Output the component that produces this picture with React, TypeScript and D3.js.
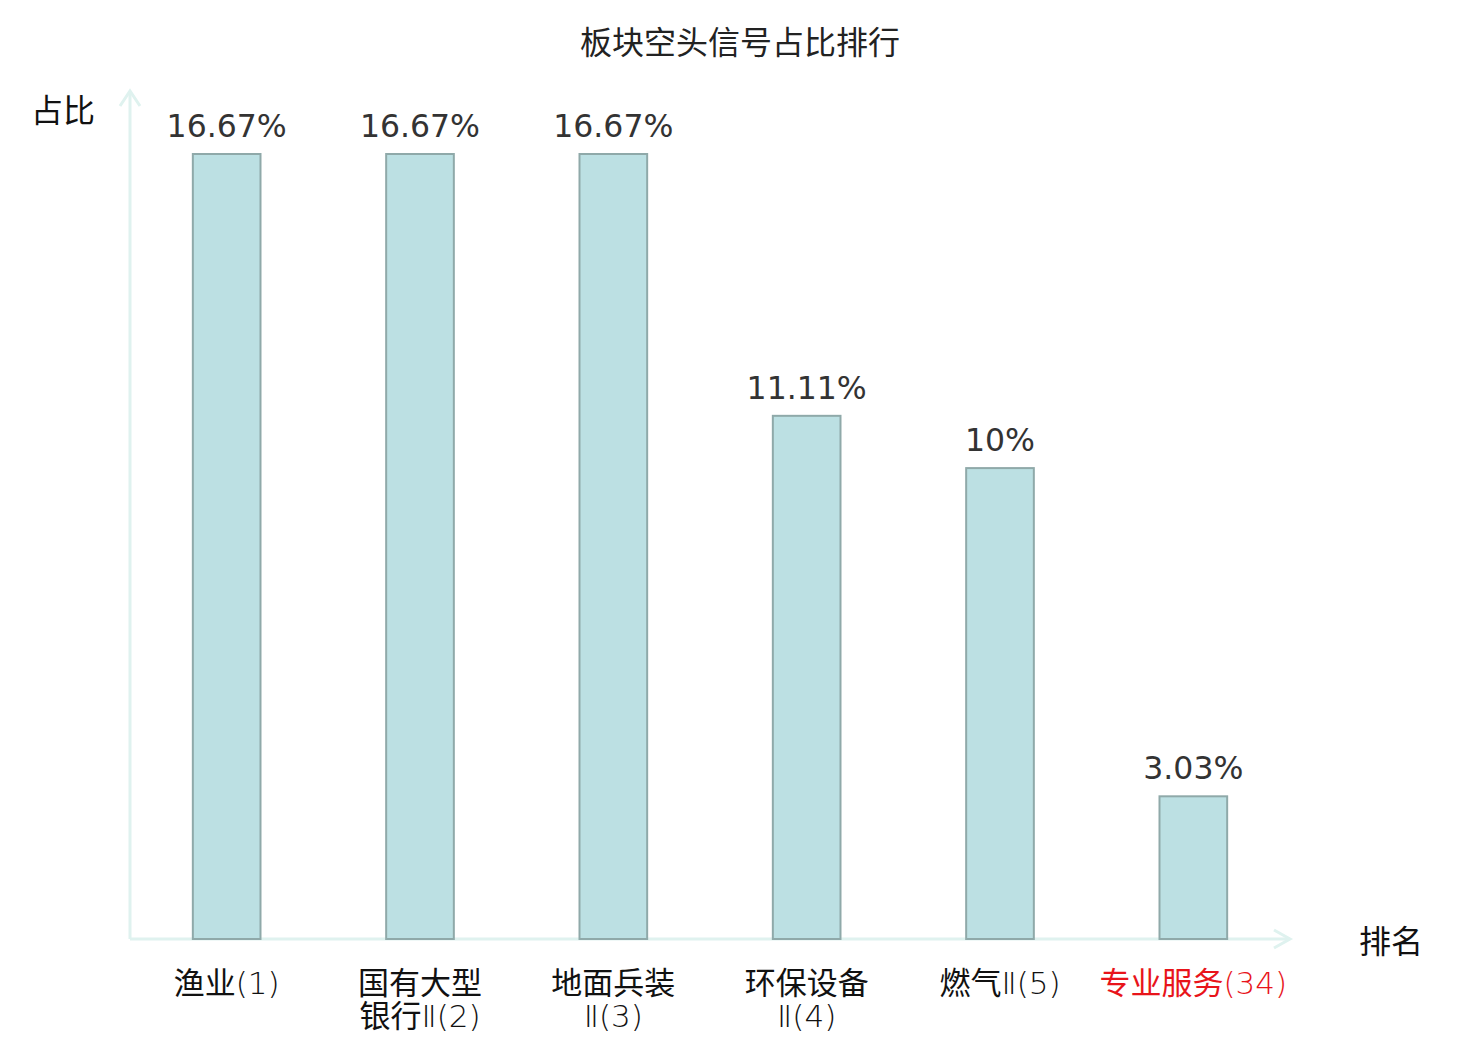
import { scaleBand, scaleLinear } from "d3";

const categories = ["渔业(1)", "国有大型银行Ⅱ(2)", "地面兵装Ⅱ(3)", "环保设备Ⅱ(4)", "燃气Ⅱ(5)", "专业服务(34)"];
const labelLines = [["渔业(1)"], ["国有大型", "银行Ⅱ(2)"], ["地面兵装", "Ⅱ(3)"], ["环保设备", "Ⅱ(4)"], ["燃气Ⅱ(5)"], ["专业服务(34)"]];
const values = [16.67, 16.67, 16.67, 11.11, 10, 3.03];
const valueLabels = ["16.67%", "16.67%", "16.67%", "11.11%", "10%", "3.03%"];
const highlighted = [false, false, false, false, false, true];

const title = "板块空头信号占比排行";
const yName = "占比";
const xName = "排名";

export default function App() {
  const width = 1480;
  const height = 1040;
  const left = 130;
  const right = 1290;
  const baseline = 939;
  const top = 154;
  const font = "DejaVu Sans, Noto Sans CJK SC, sans-serif";
  const lightFont = "'DejaVu Sans Light', 'DejaVu Sans ExtraLight', 'Noto Sans CJK SC', sans-serif";

  const x = scaleBand<string>().domain(categories).range([left, right]).padding(0);
  const y = scaleLinear().domain([0, 16.67]).range([baseline, top]);
  const barWidth = x.bandwidth() * 0.35;
  const axisColor = "#dff2ef";

  return (
    <svg
      width={width}
      height={height}
      viewBox={`0 0 ${width} ${height}`}
      style={{ position: "absolute", left: 0, top: 0, background: "#fff" }}
    >
      <text x={740} y={54} textAnchor="middle" fontSize={32} fontFamily={font} fill="#222">
        {title}
      </text>

      {/* axes with arrows */}
      <g stroke={axisColor} strokeWidth={3} fill="none">
        <line x1={left} x2={left} y1={baseline} y2={92} />
        <polyline points={`${left - 10},${106} ${left},${91} ${left + 10},${106}`} />
        <line x1={left} x2={right} y1={baseline} y2={baseline} />
        <polyline points={`${right - 16},${baseline - 9} ${right},${baseline} ${right - 16},${baseline + 9}`} />
      </g>
      <text x={63} y={122} textAnchor="middle" fontSize={32} fontFamily={font} fill="#111">
        {yName}
      </text>
      <text x={1391} y={953} textAnchor="middle" fontSize={32} fontFamily={font} fill="#111">
        {xName}
      </text>

      <g>
        {categories.map((category, index) => {
          const cx = (x(category) ?? left) + x.bandwidth() / 2;
          const barY = y(values[index]);
          return (
            <g key={category}>
              <rect
                x={cx - barWidth / 2}
                y={barY}
                width={barWidth}
                height={baseline - barY}
                fill="#bce0e3"
                stroke="#8fa9a9"
                strokeWidth={2}
              />
              <text
                x={cx}
                y={barY - 17}
                textAnchor="middle"
                fontSize={31.5}
                fontFamily={font}
                fill="#333"
              >
                {valueLabels[index]}
              </text>
              {labelLines[index].map((line, lineIndex) => (
                <text
                  key={line}
                  x={cx}
                  y={994 + lineIndex * 32.5}
                  textAnchor="middle"
                  fontSize={31}
                  fontFamily={lightFont}
                  fill={highlighted[index] ? "#e8141a" : "#111"}
                >
                  {line}
                </text>
              ))}
            </g>
          );
        })}
      </g>
    </svg>
  );
}
